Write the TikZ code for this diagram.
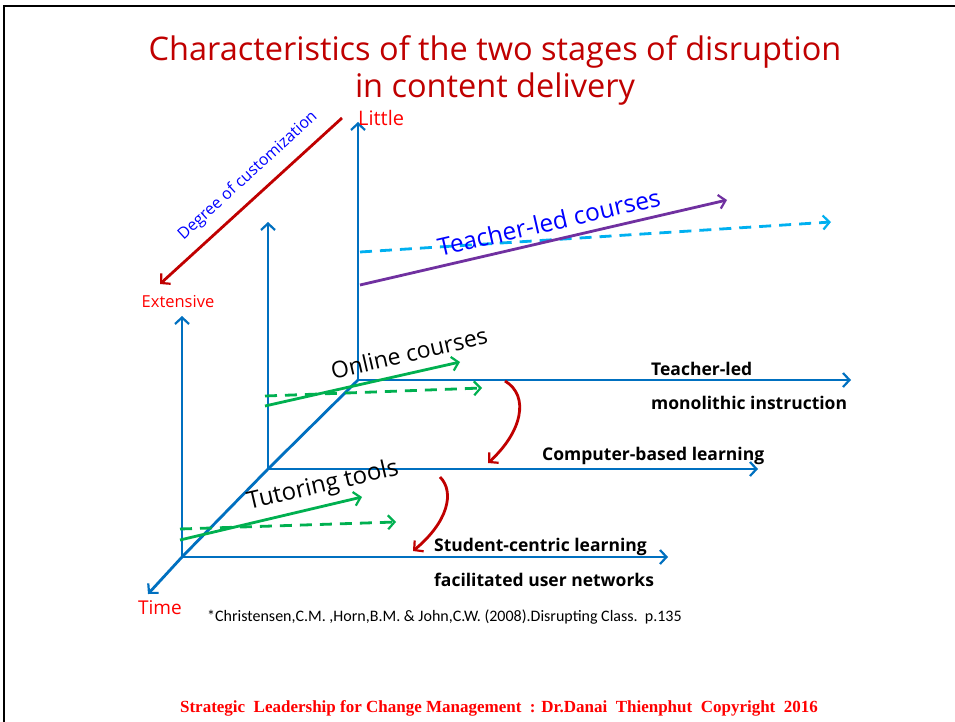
\documentclass[tikz,border=0pt]{standalone}
\usepackage{fontspec}
\setmainfont{Open Sans}
\newfontfamily\citefont{Carlito}
\newfontfamily\footfont{Liberation Serif}
\usetikzlibrary{arrows.meta}

% colors
\definecolor{axblue}{HTML}{0070C0}
\definecolor{darkred}{HTML}{C00000}
\definecolor{lblred}{HTML}{FF0000}
\definecolor{tlpurple}{HTML}{7030A0}
\definecolor{tlcyan}{HTML}{00B0F0}
\definecolor{olgreen}{HTML}{00B050}

\tikzset{
  tip/.style={-{Straight Barb[length=6.5pt,width=14pt,line width=2.2pt]}},
  axis/.style={axblue, line width=2.8pt, tip},
  trend/.style={line width=2.8pt, tip},
  redarrow/.style={darkred, line width=2.8pt, tip},
  axlbl/.style={font=\bfseries\fontsize{17.5}{20}\selectfont, anchor=west, inner sep=0pt},
  endlbl/.style={lblred, inner sep=0pt},
  sloped lbl/.style={inner sep=0pt, rotate=13, font=\fontsize{24}{28}\selectfont}
}

\begin{document}
\begin{tikzpicture}[x=1pt, y=-1pt]

\useasboundingbox (0,0) rectangle (955,722);
\fill[white] (0,0) rectangle (955,722);
% slide edges
\draw[line width=2.5pt] (4,722) -- (4,6) -- (955,6);

%%%%%% TITLE
\node[darkred, align=center, font=\fontsize{32.5}{37}\selectfont] (title) at (495,70)
  {Characteristics of the two stages of disruption\\in content delivery};

%%%%%% AXES
% origins
\coordinate (oA) at (358,380);
\coordinate (oB) at (268,469);
\coordinate (oC) at (182,557);
% ends
\coordinate (topA) at (358,122);
\coordinate (topB) at (268,222);
\coordinate (topC) at (182,316);
\coordinate (endA) at (851,380);
\coordinate (endB) at (758,469);
\coordinate (endC) at (668,557);
\coordinate (timeEnd) at (148,594);

\draw[axis] (oA) -- (topA);
\draw[axis] (oB) -- (topB);
\draw[axis] (oC) -- (topC);
\draw[axis] (oA) -- (endA);
\draw[axis] (oB) -- (endB);
\draw[axis] (oC) -- (endC);
\draw[axis, line join=round] (oA) -- (oB) -- (oC) -- (timeEnd);

%%%%%% DEGREE OF CUSTOMIZATION
\coordinate (dgStart) at (342,118);
\coordinate (dgEnd) at (160,284);
\draw[redarrow] (dgStart) -- (dgEnd);
\node[blue, rotate=42.4, font=\fontsize{16}{18}\selectfont, inner sep=0pt] (dgLbl) at (248,176) {Degree of customization};

\node[endlbl, font=\fontsize{20}{23}\selectfont, anchor=west] (little) at (358,118) {Little};
\node[endlbl, font=\fontsize{16.5}{19}\selectfont] (extensive) at (178,302) {Extensive};
\node[endlbl, font=\fontsize{19}{22}\selectfont] (time) at (160,608) {Time};

%%%%%% TEACHER-LED COURSES
\coordinate (tlStart) at (360,285);
\coordinate (tlEnd) at (727,200);
\coordinate (tdStart) at (360,252);
\coordinate (tdEnd) at (831,222);
\draw[trend, tlcyan, dash pattern=on 12pt off 8pt] (tdStart) -- (tdEnd);
\draw[trend, tlpurple] (tlStart) -- (tlEnd);
\node[sloped lbl, blue, font=\fontsize{24.5}{28}\selectfont] (tlLbl) at (549,222) {Teacher-led courses};

%%%%%% ONLINE COURSES
\coordinate (ocStart) at (265,406);
\coordinate (ocEnd) at (460,362);
\coordinate (odStart) at (265,396);
\coordinate (odEnd) at (482,388);
\draw[trend, olgreen, dash pattern=on 12pt off 8pt] (odStart) -- (odEnd);
\draw[trend, olgreen] (ocStart) -- (ocEnd);
\node[sloped lbl, font=\fontsize{23}{27}\selectfont] (ocLbl) at (409,353) {Online courses};

%%%%%% TUTORING TOOLS
\coordinate (ttStart) at (180,540);
\coordinate (ttEnd) at (362,497);
\coordinate (tdsStart) at (180,529);
\coordinate (tdsEnd) at (396,522);
\draw[trend, olgreen, dash pattern=on 12pt off 8pt] (tdsStart) -- (tdsEnd);
\draw[trend, olgreen] (ttStart) -- (ttEnd);
\node[sloped lbl] (ttLbl) at (323,486) {Tutoring tools};

%%%%%% AXIS LABELS
\node[axlbl] (tlmA) at (651,369) {Teacher-led};
\node[axlbl] (tlmB) at (651,403) {monolithic instruction};
\node[axlbl] (cbl) at (542,456) {Computer-based learning};
\node[axlbl] (scA) at (434,547) {Student-centric learning};
\node[axlbl] (scB) at (434,580) {facilitated user networks};

%%%%%% DISRUPTION ARROWS
\coordinate (dAs) at (505,381);
\coordinate (dAe) at (488,463);
\coordinate (dBs) at (440,477);
\coordinate (dBe) at (413,551);
\draw[redarrow] (dAs) .. controls (530,396) and (522,432) .. (dAe);
\draw[redarrow] (dBs) .. controls (455,492) and (448,522) .. (dBe);

%%%%%% SOURCE AND FOOTER
\node[anchor=west, inner sep=0pt, font=\citefont\fontsize{16}{18}\selectfont] (cite) at (207,617)
  {*Christensen,C.M. ,Horn,B.M. \& John,C.W. (2008).Disrupting Class.\ \ p.135};
\node[lblred, inner sep=0pt, font=\footfont\bfseries\fontsize{17}{19}\selectfont] (footer) at (499,708)
  {Strategic\ \ Leadership for Change Management\ \ : Dr.Danai\ \ Thienphut\ \ Copyright\ \ 2016};

\end{tikzpicture}
\end{document}
